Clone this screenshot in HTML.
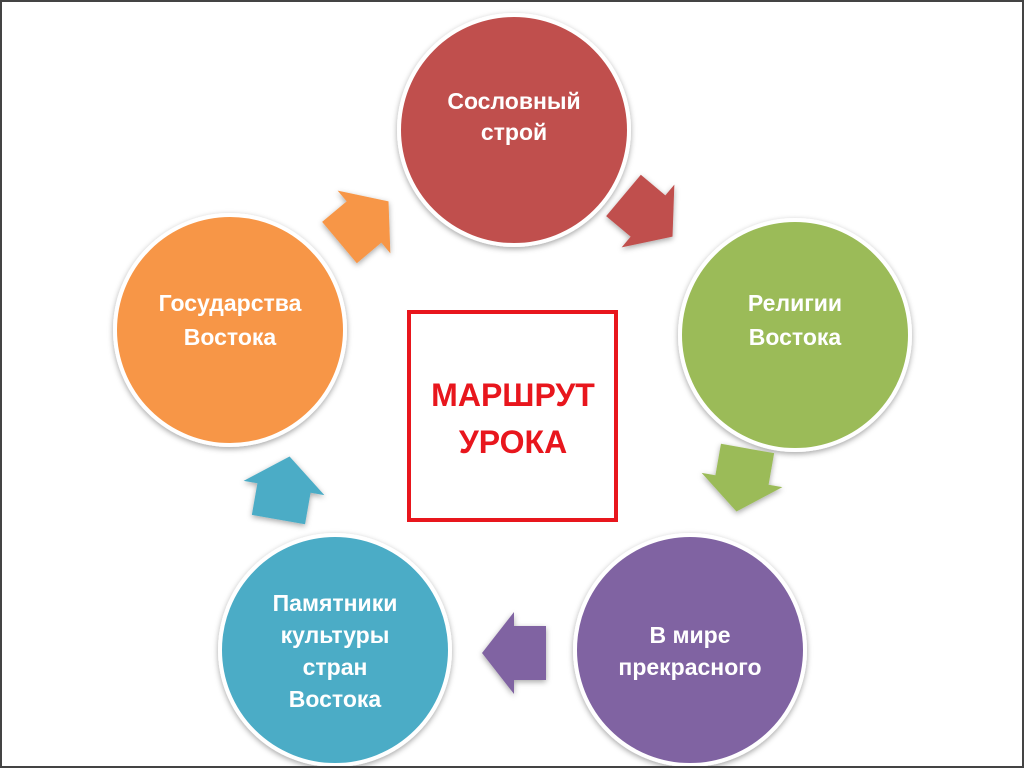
<!DOCTYPE html>
<html><head><meta charset="utf-8"><style>
body{margin:0;width:1024px;height:768px;overflow:hidden;background:#fff}
.frame{position:absolute;left:0;top:0;width:1020px;height:764px;border:2px solid #444}
svg{position:absolute;left:0;top:0}
text{font-family:"Liberation Sans","DejaVu Sans",sans-serif;font-weight:bold}
</style></head><body>
<svg width="1024" height="768">
<defs>
<filter id="sh" x="-20%" y="-20%" width="140%" height="140%"><feDropShadow dx="0" dy="2" stdDeviation="3" flood-color="#000" flood-opacity="0.35"/></filter>
<polygon id="ar" points="32,0 0,-41 0,-27 -32,-27 -32,27 0,27 0,41"/>
</defs>
<g filter="url(#sh)" stroke="#fff" stroke-width="4">
<circle cx="514" cy="130" r="115" fill="#c0504d"/>
<circle cx="795" cy="335" r="115" fill="#9bbb59"/>
<circle cx="690" cy="650" r="115" fill="#8064a2"/>
<circle cx="335" cy="650" r="115" fill="#4bacc6"/>
<circle cx="230" cy="330" r="115" fill="#f79646"/>
</g>
<g filter="url(#sh)">
<use href="#ar" fill="#c0504d" transform="translate(648,216) rotate(40)"/>
<use href="#ar" fill="#9bbb59" transform="translate(742,480) rotate(100)"/>
<use href="#ar" fill="#8064a2" transform="translate(514,653) rotate(180)"/>
<use href="#ar" fill="#4bacc6" transform="translate(284,488) rotate(-80)"/>
<use href="#ar" fill="#f79646" transform="translate(364,222) rotate(-40)"/>
</g>
<rect x="409" y="312" width="207" height="208" fill="#fff" stroke="#e8161d" stroke-width="4"/>
<g fill="#fff" font-size="23" text-anchor="middle">
<text x="514" y="109">Сословный</text><text x="514" y="140">строй</text>
<text x="795" y="311">Религии</text><text x="795" y="345">Востока</text>
<text x="690" y="643">В мире</text><text x="690" y="675">прекрасного</text>
<text x="335" y="611">Памятники</text><text x="335" y="643">культуры</text><text x="335" y="675">стран</text><text x="335" y="707">Востока</text>
<text x="230" y="311">Государства</text><text x="230" y="345">Востока</text>
</g>
<g fill="#e8161d" font-size="32" text-anchor="middle">
<text x="513" y="406">МАРШРУТ</text><text x="513" y="453">УРОКА</text>
</g>
</svg>
<div class="frame"></div>
</body></html>
